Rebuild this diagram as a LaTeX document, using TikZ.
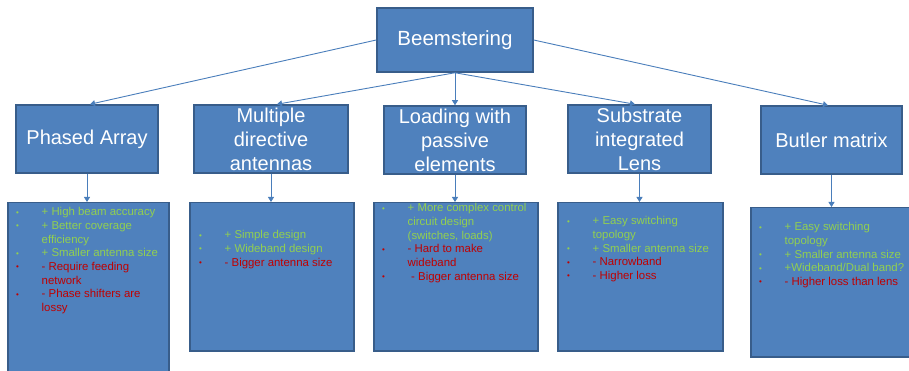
\documentclass[tikz,border=0pt]{standalone}
\usepackage{fontspec}
\setmainfont{Liberation Sans}
\usetikzlibrary{arrows.meta}
\definecolor{boxfill}{HTML}{4F81BD}
\definecolor{boxline}{HTML}{385D8A}
\definecolor{conncol}{HTML}{4A7EBB}
\definecolor{pro}{HTML}{92D050}
\definecolor{con}{HTML}{C00000}
\newcommand\bul[1]{\makebox[25.5pt][l]{\raisebox{0.6pt}{\textcolor{#1}{\fontsize{8}{8}\selectfont\textbullet}}}}
\newcommand\pitem[2]{\bul{#1} & \textcolor{#1}{#2}\\}
\newcommand\pcont[2]{ & \textcolor{#1}{#2}\\}
\tikzset{
  box/.style={draw=boxline, fill=boxfill, line width=1.5pt, rectangle, inner sep=0pt, text=white, align=center},
  topbox/.style={box, font=\fontsize{20.5}{24}\selectfont},
  midbox/.style={box, font=\fontsize{20}{24}\selectfont},
  listbox/.style={draw=boxline, fill=boxfill, line width=1.5pt, rectangle, inner sep=0pt},
  listtext/.style={anchor=north west, inner sep=0pt, font=\fontsize{11.4}{13.7}\selectfont},
  conn/.style={draw=conncol, line width=0.9pt, -{Triangle[width=6pt,length=5pt]}}
}
\begin{document}
\begin{tikzpicture}[x=1pt,y=-1pt]
\useasboundingbox (0,0) rectangle (909,371);
% top
\node[topbox, minimum width=156pt, minimum height=64pt] (top) at (455,40) {Beemstering};
% level 2
\node[midbox, minimum width=142pt, minimum height=68pt] (l1) at (87,139) {Phased Array};
\node[midbox, minimum width=154pt, minimum height=68pt] (l2) at (271,139) {Multiple\\directive\\antennas};
\node[midbox, minimum width=142pt, minimum height=68pt] (l3) at (455,140) {Loading with\\passive\\elements};
\node[midbox, minimum width=143pt, minimum height=68pt] (l4) at (639.5,139) {Substrate\\integrated\\Lens};
\node[midbox, minimum width=141pt, minimum height=68pt] (l5) at (831.5,140) {Butler matrix};
% bottom boxes
\node[listbox, minimum width=161pt, minimum height=182pt, anchor=north west] (b1) at (7,202) {};
\node[listbox, minimum width=164pt, minimum height=148pt, anchor=north west] (b2) at (189,202) {};
\node[listbox, minimum width=164pt, minimum height=148pt, anchor=north west] (b3) at (373,202) {};
\node[listbox, minimum width=165pt, minimum height=148pt, anchor=north west] (b4) at (557,202) {};
\node[listbox, minimum width=166pt, minimum height=149pt, anchor=north west] (b5) at (750,207) {};
% list texts
\node[listtext] (t1) at ([shift={(9,4)}]b1.north west) {\begin{tabular}{@{}l@{}l@{}}
\pitem{pro}{+ High beam accuracy}
\pitem{pro}{+ Better coverage}
\pcont{pro}{efficiency}
\pitem{pro}{+ Smaller antenna size}
\pitem{con}{- Require feeding}
\pcont{con}{network}
\pitem{con}{- Phase shifters are}
\pcont{con}{lossy}
\end{tabular}};
\node[listtext] (t2) at ([shift={(10,27)}]b2.north west) {\begin{tabular}{@{}l@{}l@{}}
\pitem{pro}{+ Simple design}
\pitem{pro}{+ Wideband design}
\pitem{con}{- Bigger antenna size}
\end{tabular}};
\node[listtext] (t3) at ([shift={(9,0)}]b3.north west) {\begin{tabular}{@{}l@{}l@{}}
\pitem{pro}{+ More complex control}
\pcont{pro}{circuit design}
\pcont{pro}{(switches, loads)}
\pitem{con}{- Hard to make}
\pcont{con}{wideband}
\pitem{con}{\hspace{3.5pt}- Bigger antenna size}
\end{tabular}};
\node[listtext] (t4) at ([shift={(10,13)}]b4.north west) {\begin{tabular}{@{}l@{}l@{}}
\pitem{pro}{+ Easy switching}
\pcont{pro}{topology}
\pitem{pro}{+ Smaller antenna size}
\pitem{con}{- Narrowband}
\pitem{con}{- Higher loss}
\end{tabular}};
\node[listtext] (t5) at ([shift={(9,14)}]b5.north west) {\begin{tabular}{@{}l@{}l@{}}
\pitem{pro}{+ Easy switching}
\pcont{pro}{topology}
\pitem{pro}{+ Smaller antenna size}
\pitem{pro}{+Wideband/Dual band?}
\pitem{con}{- Higher loss than lens}
\end{tabular}};
% connectors from top
\draw[conn] (top.west) -- ([xshift=3pt]l1.north);
\draw[conn] (top.south) -- ([xshift=6pt]l2.north);
\draw[conn] (top.south) -- (l3.north);
\draw[conn] (top.south) -- ([xshift=-4.5pt]l4.north);
\draw[conn] (top.east) -- ([xshift=-3.5pt]l5.north);
% connectors down
\draw[conn] (l1.south) -- (l1.south |- b1.north);
\draw[conn] (l2.south) -- (l2.south |- b2.north);
\draw[conn] (l3.south) -- (l3.south |- b3.north);
\draw[conn] (l4.south) -- (l4.south |- b4.north);
\draw[conn] (l5.south) -- (l5.south |- b5.north);
\end{tikzpicture}
\end{document}
